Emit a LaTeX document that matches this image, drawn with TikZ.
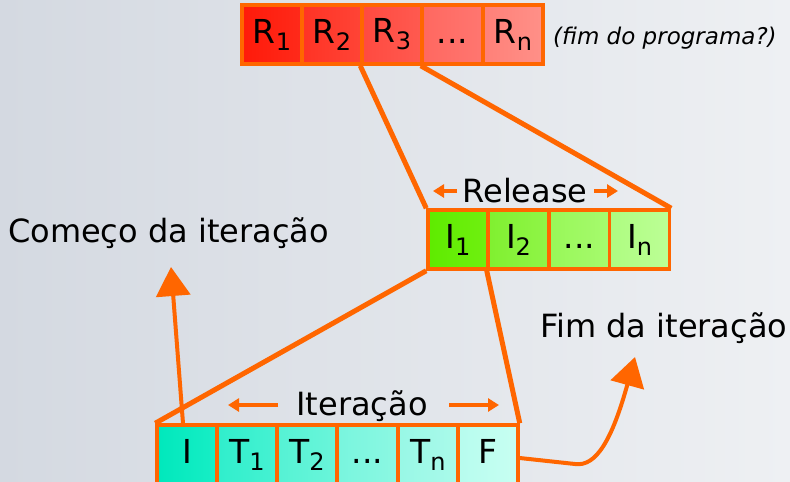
\documentclass[tikz,border=0pt]{standalone}
\usepackage{fontspec}
\setmainfont{DejaVu Sans}
\usetikzlibrary{arrows.meta}
\definecolor{org}{HTML}{FF6600}
\definecolor{bgl}{HTML}{D4D9E1}
\definecolor{bgr}{HTML}{EEF0F3}
\definecolor{ra1}{HTML}{FF1A0A}\definecolor{rb1}{HTML}{FF2A1A}
\definecolor{ra2}{HTML}{FF3325}\definecolor{rb2}{HTML}{FF4436}
\definecolor{ra3}{HTML}{FF4A40}\definecolor{rb3}{HTML}{FF5A50}
\definecolor{ra4}{HTML}{FF6860}\definecolor{rb4}{HTML}{FF7670}
\definecolor{ra5}{HTML}{FF8078}\definecolor{rb5}{HTML}{FF9088}
\definecolor{ia1}{HTML}{5EEB00}\definecolor{ib1}{HTML}{70F010}
\definecolor{ia2}{HTML}{80F030}\definecolor{ib2}{HTML}{90F548}
\definecolor{ia3}{HTML}{98F858}\definecolor{ib3}{HTML}{A6FA6E}
\definecolor{ia4}{HTML}{AEFC80}\definecolor{ib4}{HTML}{BCFF96}
\definecolor{ta1}{HTML}{00E8BC}\definecolor{tb1}{HTML}{18EEC6}
\definecolor{ta2}{HTML}{30EECC}\definecolor{tb2}{HTML}{46F2D2}
\definecolor{ta3}{HTML}{55F2D4}\definecolor{tb3}{HTML}{6AF5DA}
\definecolor{ta4}{HTML}{78F5DE}\definecolor{tb4}{HTML}{8CF8E2}
\definecolor{ta5}{HTML}{98F8E6}\definecolor{tb5}{HTML}{AAFAEA}
\definecolor{ta6}{HTML}{B6FCEE}\definecolor{tb6}{HTML}{C8FFF2}
\tikzset{
 cell/.style={draw=org, line width=3.5pt, minimum width=60pt, minimum height=59pt, inner sep=0pt, font=\fontsize{33}{33}\selectfont},
 conn/.style={draw=org, line width=5pt},
 lbl/.style={font=\fontsize{32}{32}\selectfont, inner sep=0pt},
 bigarrow/.style={draw=org, line width=4pt, -{Triangle[width=34pt,length=29pt]}},
 smallarrow/.style={draw=org, line width=4pt, -{Triangle[width=13pt,length=11pt]}}
}
\newcommand\sbx[1]{\raisebox{-7pt}{\fontsize{24}{24}\selectfont #1}}
\newcommand\cellstrut{\vphantom{R\sbx{1}}}
\begin{document}
\begin{tikzpicture}[x=1pt,y=-1pt]
\useasboundingbox (0,0) rectangle (790,482);
\shade[left color=bgl, right color=bgr] (0,0) rectangle (790,482);
% top row
\node[cell, left color=ra1, right color=rb1] (r1) at (272,34.5) {\cellstrut R\sbx{1}};
\node[cell, left color=ra2, right color=rb2] (r2) at (332,34.5) {\cellstrut R\sbx{2}};
\node[cell, left color=ra3, right color=rb3] (r3) at (392,34.5) {\cellstrut R\sbx{3}};
\node[cell, left color=ra4, right color=rb4] (r4) at (452.5,34.5) {\cellstrut ...};
\node[cell, left color=ra5, right color=rb5] (r5) at (513,34.5) {\cellstrut R\sbx{n}};
\node[font=\fontsize{23}{23}\selectfont\itshape, anchor=base west, inner sep=0pt] (fp) at (553,44) {(fim do programa?)};
% middle row
\node[cell, left color=ia1, right color=ib1] (i1) at (458,239.5) {\cellstrut I\sbx{1}};
\node[cell, left color=ia2, right color=ib2] (i2) at (518.5,239.5) {\cellstrut I\sbx{2}};
\node[cell, left color=ia3, right color=ib3] (i3) at (579.5,239.5) {\cellstrut ...};
\node[cell, left color=ia4, right color=ib4] (i4) at (639.5,239.5) {\cellstrut I\sbx{n}};
\node[lbl, anchor=base] (rel) at (525,202) {Release};
\coordinate (rla) at (457,191); \coordinate (rlb) at (433,191);
\coordinate (rra) at (594,191); \coordinate (rrb) at (618,191);
\draw[smallarrow] (rla) -- (rlb);
\draw[smallarrow] (rra) -- (rrb);
% bottom row
\node[cell, left color=ta1, right color=tb1] (t0) at (187,454.5) {\cellstrut I};
\node[cell, left color=ta2, right color=tb2] (t1) at (247,454.5) {\cellstrut T\sbx{1}};
\node[cell, left color=ta3, right color=tb3] (t2) at (307,454.5) {\cellstrut T\sbx{2}};
\node[cell, left color=ta4, right color=tb4] (t3) at (367.5,454.5) {\cellstrut ...};
\node[cell, left color=ta5, right color=tb5] (t4) at (428,454.5) {\cellstrut T\sbx{n}};
\node[cell, left color=ta6, right color=tb6] (t5) at (488,454.5) {\cellstrut F};
\node[lbl, anchor=base] (itl) at (362,415) {Iteração};
\coordinate (ila) at (278,405); \coordinate (ilb) at (228,405);
\coordinate (ira) at (449,405); \coordinate (irb) at (499,405);
\draw[smallarrow] (ila) -- (ilb);
\draw[smallarrow] (ira) -- (irb);
% connectors
\draw[conn] (r3.south west) -- (i1.north west);
\draw[conn] (r4.south west) -- (i4.north east);
\draw[conn] (i1.south west) -- (t0.north west);
\draw[conn] (i2.south west) -- (t5.north east);
% labels and arrows
\node[lbl, anchor=base west] (cm) at (8,242) {Começo da iteração};
\node[lbl, anchor=base west] (fm) at (540,337) {Fim da iteração};
\coordinate (cmt) at (171,267);
\draw[bigarrow] ([xshift=-4pt]t0.north) -- (cmt);
\coordinate (fmt) at (635,357);
\coordinate (fmk) at (575,464);
\draw[bigarrow] ([yshift=-3.5pt]t5.east) -- (fmk) .. controls (596,467) and (612,440) .. (fmt);
\end{tikzpicture}
\end{document}
